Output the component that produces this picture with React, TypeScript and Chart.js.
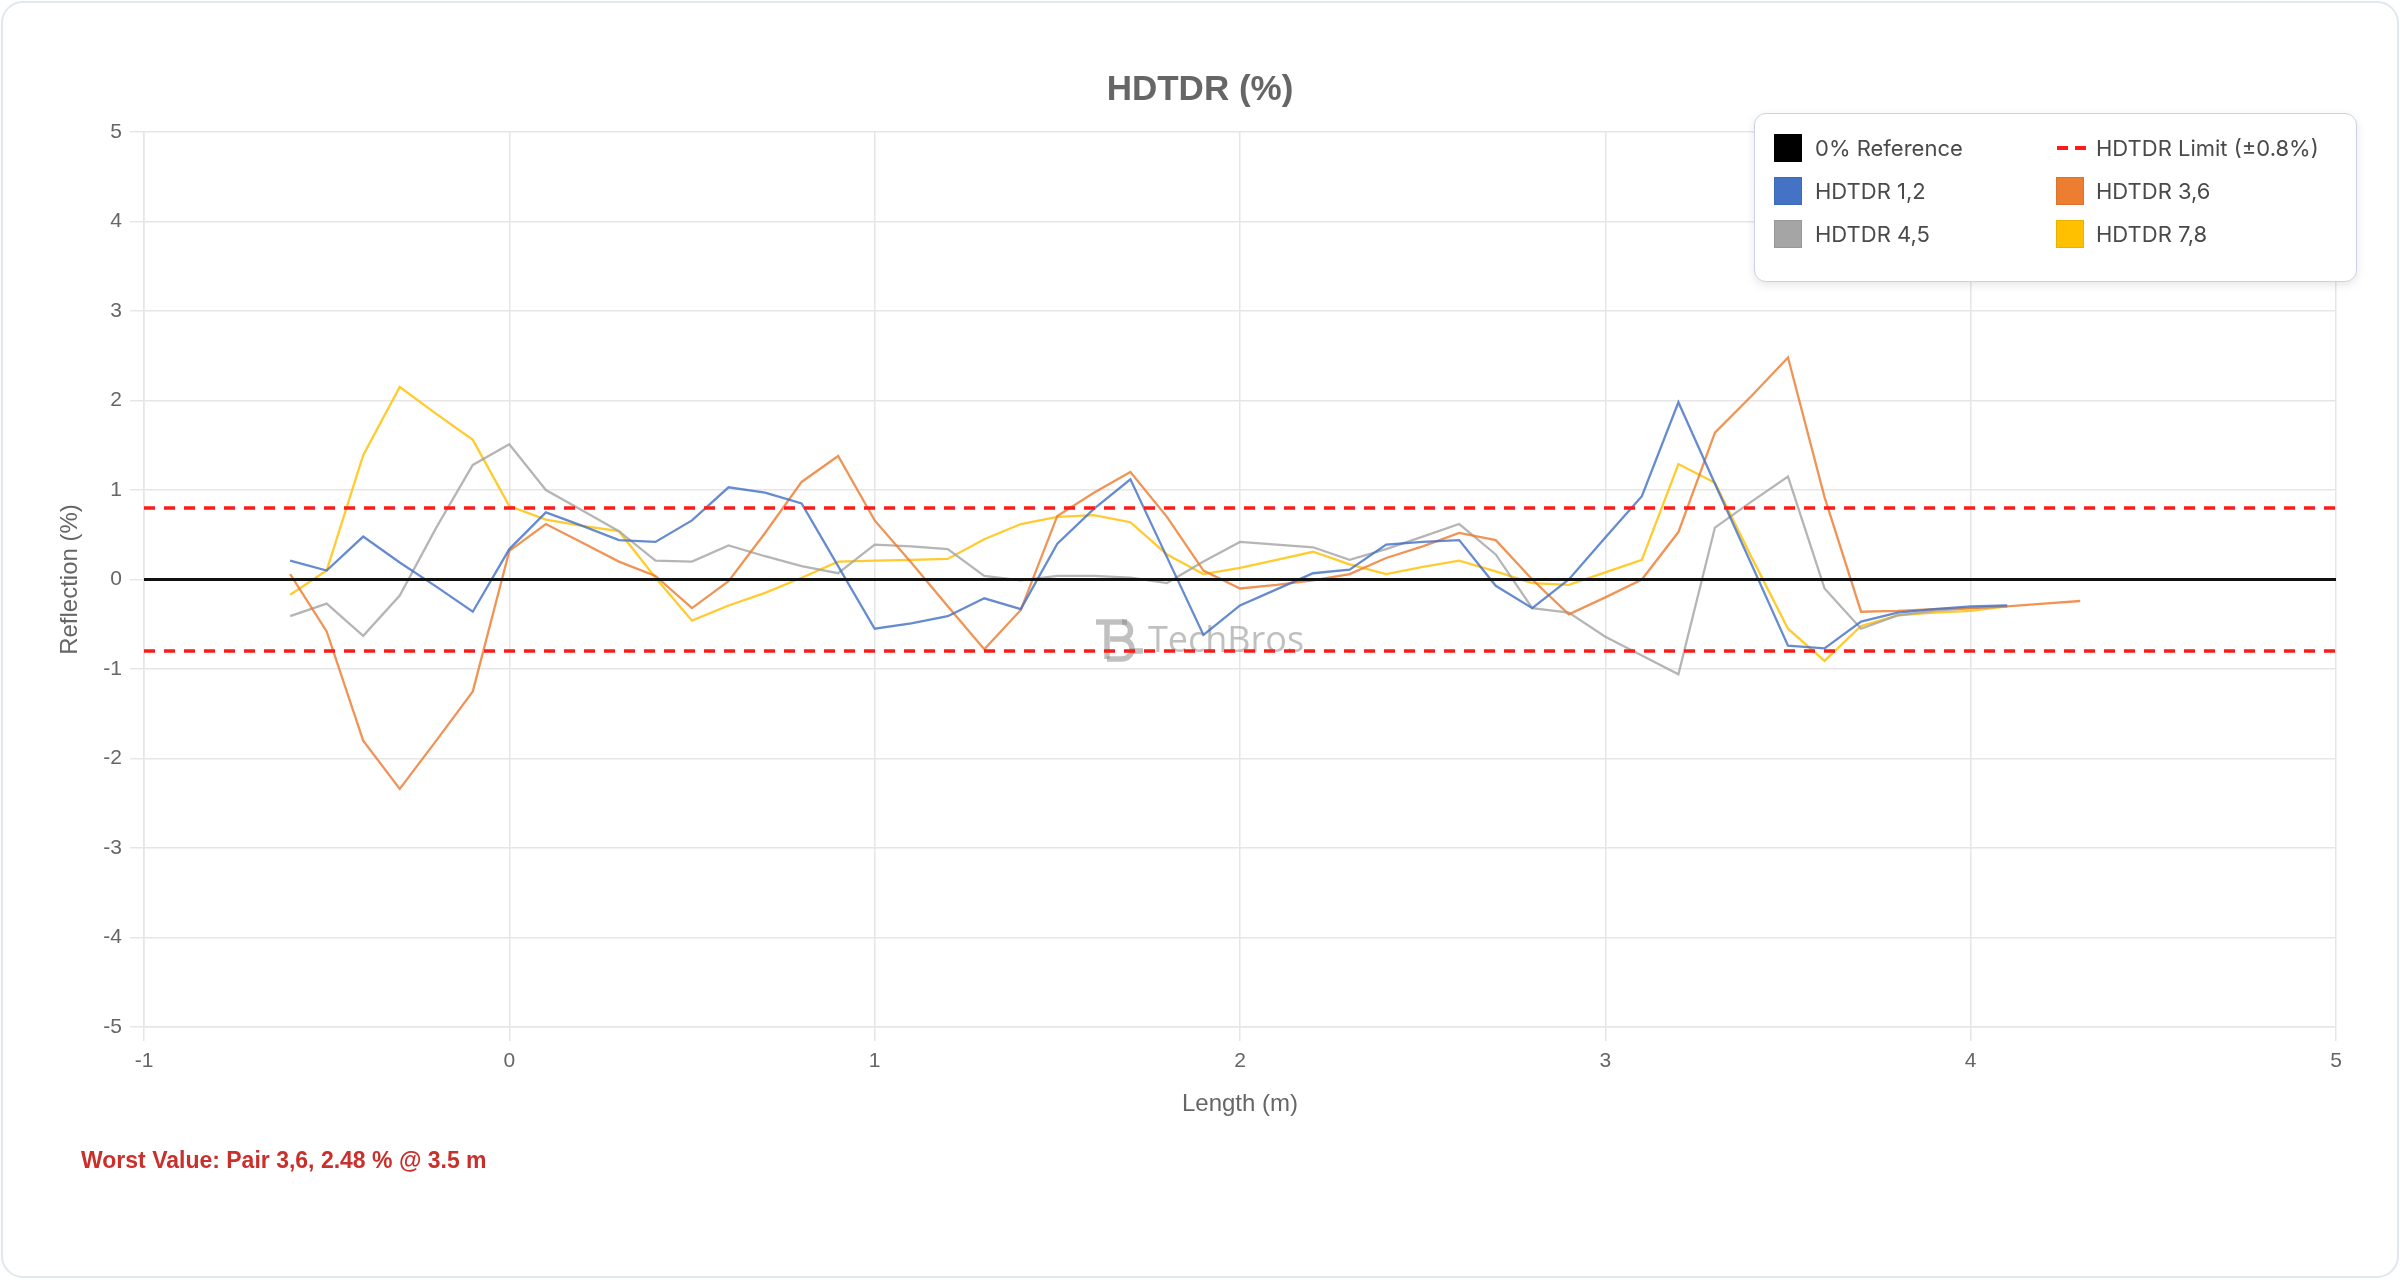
import React, { useEffect, useRef } from "react";
import { Chart, registerables } from "chart.js";

Chart.register(...registerables);

// ---------- data ----------
const lengths = [
  -0.6, -0.5, -0.4, -0.3, -0.2, -0.1, 0.0, 0.1, 0.2, 0.3,
  0.4, 0.5, 0.6, 0.7, 0.8, 0.9, 1.0, 1.1, 1.2, 1.3,
  1.4, 1.5, 1.6, 1.7, 1.8, 1.9, 2.0, 2.1, 2.2, 2.3,
  2.4, 2.5, 2.6, 2.7, 2.8, 2.9, 3.0, 3.1, 3.2, 3.3,
  3.4, 3.5, 3.6, 3.7, 3.8, 3.9, 4.0, 4.1, 4.2, 4.3,
];

const pair12 = [
  0.21, 0.1, 0.48, 0.19, -0.08, -0.36, 0.34, 0.75, 0.6, 0.44,
  0.42, 0.66, 1.03, 0.97, 0.85, 0.15, -0.55, -0.49, -0.41, -0.21,
  -0.33, 0.4, 0.79, 1.12, 0.25, -0.62, -0.29, -0.11, 0.07, 0.11,
  0.39, 0.42, 0.44, -0.07, -0.32, 0.0, 0.47, 0.93, 1.98, 1.07,
  0.17, -0.74, -0.77, -0.47, -0.37, -0.33, -0.3, -0.29, null, null,
];

const pair36 = [
  0.06, -0.58, -1.8, -2.34, -1.8, -1.25, 0.32, 0.62, 0.41, 0.2,
  0.04, -0.32, -0.02, 0.52, 1.09, 1.38, 0.66, 0.19, -0.3, -0.78,
  -0.34, 0.71, 0.97, 1.2, 0.7, 0.1, -0.1, -0.06, -0.01, 0.06,
  0.24, 0.37, 0.52, 0.44, 0.0, -0.39, -0.2, 0.0, 0.53, 1.64,
  2.05, 2.48, 0.92, -0.36, -0.35, -0.33, -0.32, -0.3, -0.27, -0.24,
];

const pair45 = [
  -0.41, -0.27, -0.63, -0.18, 0.58, 1.28, 1.51, 1.0, 0.77, 0.54,
  0.21, 0.2, 0.38, 0.26, 0.15, 0.07, 0.39, 0.37, 0.34, 0.04,
  -0.01, 0.04, 0.04, 0.02, -0.04, 0.2, 0.42, 0.39, 0.36, 0.22,
  0.34, 0.48, 0.62, 0.28, -0.32, -0.37, -0.64, -0.85, -1.06, 0.58,
  0.87, 1.15, -0.1, -0.55, -0.4, -0.35, -0.32, -0.3, null, null,
];

const pair78 = [
  -0.17, 0.1, 1.39, 2.15, 1.85, 1.56, 0.82, 0.67, 0.6, 0.54,
  0.02, -0.46, -0.29, -0.15, 0.02, 0.2, 0.21, 0.22, 0.23, 0.45,
  0.62, 0.7, 0.72, 0.64, 0.28, 0.06, 0.13, 0.22, 0.31, 0.17,
  0.06, 0.14, 0.21, 0.09, -0.04, -0.06, 0.08, 0.22, 1.29, 1.08,
  0.25, -0.55, -0.91, -0.52, -0.4, -0.37, -0.35, -0.3, null, null,
];

const axisRange = [-1, 5];
const yRange = [-5, 5];
const limitValue = 0.8;
const referenceValue = 0;

const seriesNames = ["HDTDR 1,2", "HDTDR 3,6", "HDTDR 4,5", "HDTDR 7,8"];
const seriesColors = ["#4472C4", "#ED7D31", "#A5A5A5", "#FFC000"];
const seriesLineColors = [
  "rgba(68,114,196,0.82)",
  "rgba(237,125,49,0.82)",
  "rgba(165,165,165,0.82)",
  "rgba(255,192,0,0.82)",
];
const worstText = "Worst Value: Pair 3,6, 2.48 % @ 3.5 m";

const toPoints = (vals: (number | null)[]) =>
  lengths.map((x, i) => ({ x, y: vals[i] }));

const watermarkPlugin = {
  id: "watermark",
  beforeDatasetsDraw(chart: any) {
    const ctx = chart.ctx as CanvasRenderingContext2D;
    ctx.save();
    const cx = 1200;
    const cy = 640;
    ctx.strokeStyle = "rgba(140,140,140,0.55)";
    ctx.fillStyle = "rgba(140,140,140,0.55)";
    ctx.lineWidth = 5.5;
    ctx.lineCap = "butt";
    // logo
    const lx = cx - 104;
    ctx.beginPath();
    ctx.moveTo(lx, cy - 18);
    ctx.lineTo(lx + 31, cy - 18);
    ctx.moveTo(lx + 11, cy - 18);
    ctx.lineTo(lx + 11, cy + 19);
    ctx.stroke();
    ctx.beginPath();
    ctx.moveTo(lx + 26, cy - 18);
    ctx.arc(lx + 26, cy - 9.5, 8.5, -Math.PI / 2, Math.PI / 2);
    ctx.lineTo(lx + 14, cy - 1);
    ctx.moveTo(lx + 26, cy - 1);
    ctx.arc(lx + 26, cy + 9, 10, -Math.PI / 2, Math.PI / 2);
    ctx.lineTo(lx + 11, cy + 19);
    ctx.stroke();
    ctx.beginPath();
    ctx.moveTo(lx + 34, cy + 11);
    ctx.lineTo(lx + 47, cy + 11);
    ctx.stroke();
    // text
    ctx.font = "36px 'Open Sans', sans-serif";
    ctx.textAlign = "left";
    ctx.textBaseline = "middle";
    ctx.fillText("TechBros", cx - 52, cy + 2);
    ctx.restore();
  },
};

function ChartCanvas() {
  const ref = useRef<HTMLCanvasElement | null>(null);
  useEffect(() => {
    if (!ref.current) return;
    const gridColor = "#e6e6e6";
    const tickFont = { family: "'Liberation Sans', Arial, sans-serif", size: 21 };
    const titleFont = { family: "'Liberation Sans', Arial, sans-serif", size: 24 };
    const series = [pair12, pair36, pair45, pair78].map((vals, i) => ({
      label: seriesNames[i],
      data: toPoints(vals),
      borderColor: seriesLineColors[i],
      backgroundColor: seriesColors[i],
      borderWidth: 2.3,
      pointRadius: 0,
      tension: 0,
      fill: false,
      spanGaps: false,
    }));
    const chart = new Chart(ref.current, {
      type: "line",
      data: {
        datasets: [
          {
            label: "0% Reference",
            data: [
              { x: axisRange[0], y: referenceValue },
              { x: axisRange[1], y: referenceValue },
            ],
            borderColor: "#111",
            backgroundColor: "#000",
            borderWidth: 3.2,
            pointRadius: 0,
          },
          {
            label: "HDTDR Limit (±0.8%)",
            data: [
              { x: axisRange[0], y: limitValue },
              { x: axisRange[1], y: limitValue },
            ],
            borderColor: "#ff1a1a",
            borderWidth: 3.5,
            borderDash: [11, 9],
            pointRadius: 0,
          },
          {
            label: "HDTDR Limit (-0.8%)",
            data: [
              { x: axisRange[0], y: -limitValue },
              { x: axisRange[1], y: -limitValue },
            ],
            borderColor: "#ff1a1a",
            borderWidth: 3.5,
            borderDash: [11, 9],
            pointRadius: 0,
          },
          ...series,
        ] as any,
      },
      options: {
        animation: false,
        responsive: false,
        devicePixelRatio: 1,
        layout: { padding: { left: 64, right: 64, top: 0, bottom: 157.6 } },
        plugins: {
          legend: { display: false },
          tooltip: { enabled: false },
          title: {
            display: true,
            text: "HDTDR (%)",
            color: "#666",
            font: { family: "'Liberation Sans', Arial, sans-serif", size: 35, weight: "bold" },
            padding: { top: 69, bottom: 21 },
          },
        },
        scales: {
          x: {
            type: "linear",
            min: axisRange[0],
            max: axisRange[1],
            ticks: { stepSize: 1, color: "#666", font: tickFont, padding: 8 },
            grid: { color: gridColor, lineWidth: 1.5, tickLength: 14 },
            border: { color: gridColor, width: 1.5 },
            title: {
              display: true,
              text: "Length (m)",
              color: "#666",
              font: titleFont,
              padding: { top: 4, bottom: 4 },
            },
            afterFit(scale: any) {
              scale.height = 95.4;
            },
          },
          y: {
            type: "linear",
            min: yRange[0],
            max: yRange[1],
            ticks: { stepSize: 1, color: "#666", font: tickFont, padding: 8 },
            grid: { color: gridColor, lineWidth: 1.5, tickLength: 14 },
            border: { color: gridColor, width: 1.5 },
            title: {
              display: true,
              text: "Reflection (%)",
              color: "#666",
              font: titleFont,
              padding: { top: -8.4, bottom: 4 },
            },
            afterFit(scale: any) {
              scale.width = 80;
            },
          },
        },
      } as any,
      plugins: [watermarkPlugin],
    });
    return () => chart.destroy();
  }, []);
  return (
    <canvas
      ref={ref}
      width={2400}
      height={1280}
      style={{ position: "absolute", left: 0, top: 0, width: 2400, height: 1280 }}
    />
  );
}

const legendItems = [
  { label: "0% Reference", color: "#000000", dashed: false },
  { label: "HDTDR Limit (±0.8%)", color: "#ff1a1a", dashed: true },
  { label: seriesNames[0], color: seriesColors[0], dashed: false },
  { label: seriesNames[1], color: seriesColors[1], dashed: false },
  { label: seriesNames[2], color: seriesColors[2], dashed: false },
  { label: seriesNames[3], color: seriesColors[3], dashed: false },
];

function Legend() {
  return (
    <div
      style={{
        position: "absolute",
        left: 1754,
        top: 113,
        width: 603,
        height: 169,
        boxSizing: "border-box",
        border: "1.5px solid #c9d3e3",
        borderRadius: 12,
        background: "#fff",
        boxShadow: "0 3px 10px rgba(0,0,0,0.10)",
        fontFamily: "Inter, 'Noto Sans', sans-serif",
      }}
    >
      {legendItems.map((it, i) => {
        const col = i % 2;
        const row = Math.floor(i / 2);
        const cy = 34 + row * 43;
        const swLeft = col === 0 ? 19 : 301;
        const txtLeft = col === 0 ? 60 : 341;
        return (
          <React.Fragment key={it.label}>
            {it.dashed ? (
              <div style={{ position: "absolute", left: swLeft + 1, top: cy - 2, width: 29, height: 4 }}>
                <div style={{ position: "absolute", left: 0, top: 0, width: 11, height: 4, background: it.color }} />
                <div style={{ position: "absolute", left: 18, top: 0, width: 11, height: 4, background: it.color }} />
              </div>
            ) : (
              <div
                style={{
                  position: "absolute",
                  left: swLeft,
                  top: cy - 14,
                  width: 28,
                  height: 28,
                  boxSizing: "border-box",
                  background: it.color,
                  border: "1.5px solid rgba(0,0,0,0.08)",
                }}
              />
            )}
            <div
              style={{
                position: "absolute",
                left: txtLeft,
                top: cy - 14,
                height: 28,
                lineHeight: "28px",
                fontSize: 22,
                color: "#4a4a4a",
                whiteSpace: "nowrap",
              }}
            >
              {it.label}
            </div>
          </React.Fragment>
        );
      })}
    </div>
  );
}

export default function App() {
  return (
    <div style={{ position: "fixed", left: 0, top: 0, width: 2400, height: 1280, background: "#fff", overflow: "hidden" }}>
      <div
        style={{
          position: "absolute",
          left: 1,
          top: 1,
          width: 2398,
          height: 1277,
          boxSizing: "border-box",
          border: "2px solid #e1e7ef",
          borderRadius: 22,
          background: "#fff",
        }}
      />
      <ChartCanvas />
      <Legend />
      <div
        style={{
          position: "absolute",
          left: 81,
          top: 1146,
          lineHeight: "28px",
          fontSize: 23,
          fontWeight: "bold",
          color: "#c9302c",
          fontFamily: "'Liberation Sans', Arial, sans-serif",
          whiteSpace: "nowrap",
        }}
      >
        {worstText}
      </div>
    </div>
  );
}
